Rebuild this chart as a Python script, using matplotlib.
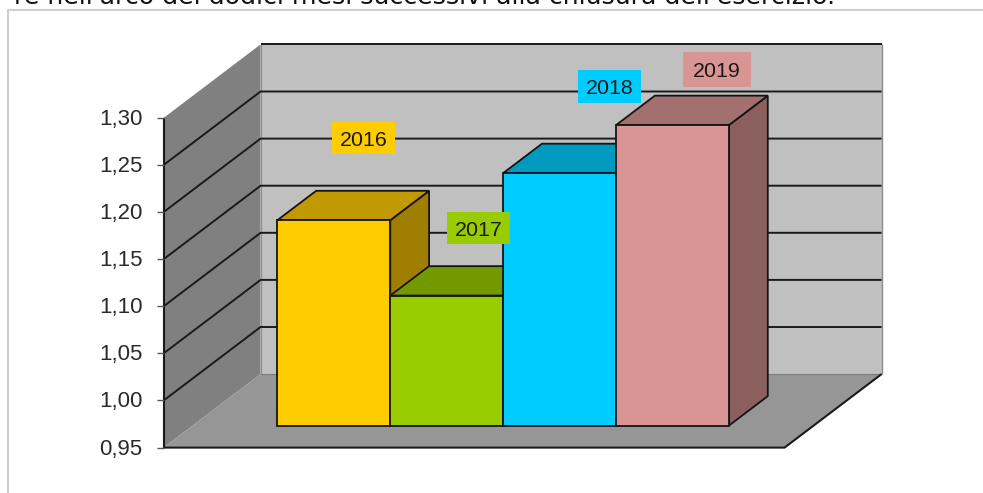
import matplotlib
matplotlib.use("Agg")
import matplotlib.pyplot as plt
from matplotlib.patches import Polygon, Rectangle
from matplotlib.lines import Line2D
from matplotlib.transforms import Affine2D, ScaledTranslation

categories = ["2016", "2017", "2018", "2019"]
values = [1.168, 1.088, 1.218, 1.269]
front_colors = ["#FFCC00", "#99CC00", "#00CCFF", "#D99594"]
top_colors = ["#C09A00", "#739900", "#0099BF", "#A37070"]
side_colors = ["#A07F00", "#607F00", "#007F9F", "#8C5F5F"]
yticks = [0.95, 1.00, 1.05, 1.10, 1.15, 1.20, 1.25, 1.30]
ytick_labels = ["0,95", "1,00", "1,05", "1,10", "1,15", "1,20", "1,25", "1,30"]
title_fragment = "re nell'arco dei dodici mesi successivi alla chiusura dell'esercizio."

W, H = 983, 493
fig = plt.figure(figsize=(W / 100, H / 100), dpi=100, facecolor="white")
ax = fig.add_axes([0, 0, 1, 1])
ax.axis("off")

# axis calibration (pixels)
PX_X0, UNIT_X = 163.6, 112.9
PX_Y0, UNIT_Y = 447.6, 47.1 / 0.05
DEPTH_DX, DEPTH_DY = 97.0, 73.5
XMIN, XMAX = -0.75, 4.75
VMIN, VMAX = 0.95, 1.30

ax.set_xlim(XMIN - PX_X0 / UNIT_X, XMIN + (W - PX_X0) / UNIT_X)
ax.set_ylim(VMIN - (H - PX_Y0) / UNIT_Y, VMIN + PX_Y0 / UNIT_Y)

pix = Affine2D().scale(1, -1).translate(0, H)


def P(x, v, d=0.0):
    return (x + d * DEPTH_DX / UNIT_X, v + d * DEPTH_DY / UNIT_Y)


def poly(points, fc, ec="none", lw=0, z=1):
    ax.add_patch(Polygon(points, closed=True, facecolor=fc, edgecolor=ec,
                         linewidth=lw, joinstyle="miter", zorder=z))


def line(points, color="#1a1a1a", lw=1.4, z=2):
    xs, ys = zip(*points)
    ax.add_line(Line2D(xs, ys, color=color, lw=lw, zorder=z,
                       solid_capstyle="butt", solid_joinstyle="miter"))


# walls and floor
poly([P(XMIN, VMIN, 1), P(XMAX, VMIN, 1), P(XMAX, VMAX, 1), P(XMIN, VMAX, 1)], "#C0C0C0")
poly([P(XMIN, VMIN), P(XMIN, VMIN, 1), P(XMIN, VMAX, 1), P(XMIN, VMAX)], "#808080")
poly([P(XMIN, VMIN), P(XMAX, VMIN), P(XMAX, VMIN, 1), P(XMIN, VMIN, 1)], "#969696")
line([P(XMAX, VMIN, 1), P(XMAX, VMAX, 1)], color="#8c8c8c", lw=1.0)
line([P(XMIN, VMIN, 1), P(XMIN, VMAX, 1)], color="#8c8c8c", lw=0.8)
line([P(XMIN, VMIN, 1), P(XMAX, VMIN, 1)], color="#7a7a7a", lw=0.8)

# gridlines
for t in yticks[1:]:
    if t < VMAX:
        line([P(XMIN, t), P(XMIN, t, 1), P(XMAX, t, 1)])
    else:
        line([P(XMIN, t, 1), P(XMAX, t, 1)])

# axis lines, ticks, tick labels
line([P(XMIN, VMIN), P(XMIN, VMAX)], lw=1.5, z=3)
line([P(XMIN, VMIN), P(XMAX, VMIN), P(XMAX, VMIN, 1)], lw=1.5, z=3)
label_shift = ScaledTranslation(0, 1 / 100, fig.dpi_scale_trans)
for t, lab in zip(yticks, ytick_labels):
    x0, y0 = P(XMIN, t)
    ax.plot([x0 - 7 / UNIT_X, x0], [y0, y0], color="#555555", lw=1.0, zorder=3,
            solid_capstyle="butt")
    ax.text(x0 - 21 / UNIT_X, y0, lab, ha="right", va="center_baseline",
            family="Liberation Sans", fontsize=16, color="#2a2a2a", zorder=3,
            transform=ax.transData + label_shift)

# bars
D0, D1 = 0.3, 0.7
for i, (v, fc, tc, sc) in enumerate(zip(values, front_colors, top_colors, side_colors)):
    e = dict(ec="#141414", lw=1.3, z=4 + i)
    poly([P(i + 1, VMIN, D0), P(i + 1, VMIN, D1), P(i + 1, v, D1), P(i + 1, v, D0)], sc, **e)
    poly([P(i, v, D0), P(i + 1, v, D0), P(i + 1, v, D1), P(i, v, D1)], tc, **e)
    poly([P(i, VMIN, D0), P(i + 1, VMIN, D0), P(i + 1, v, D0), P(i, v, D0)], fc, **e)

# data labels placed above each bar (pixel boxes)
label_centers = [(363.7, 138.0), (478.7, 228.0), (609.7, 86.4), (717.2, 69.2)]
label_w = [63.3, 63.3, 63.3, 67.7]
label_h = [32.6, 32.4, 32.7, 35.0]
for name, (cx, cy), lw_, lh_, col in zip(categories, label_centers, label_w, label_h, front_colors):
    ax.add_patch(Rectangle((cx - lw_ / 2, cy - lh_ / 2), lw_, lh_, transform=pix,
                           facecolor=col, edgecolor="none", zorder=20))
    ax.text(cx, cy, name, transform=pix, ha="center", va="center_baseline",
            family="Liberation Sans", fontsize=15.4, color="#1a1a1a", zorder=21)

# surrounding frame of the page
ax.add_line(Line2D([8, 8, W], [H, 10.3, 10.3], transform=pix, color="#CFCFCF", lw=1.5,
                   zorder=0, solid_joinstyle="round"))
ax.text(835, 4, title_fragment, transform=pix, ha="right", va="baseline",
        family="DejaVu Sans", fontsize=18.2, color="#111111", zorder=0, clip_on=True)

fig.savefig("out.png", dpi=100, facecolor="white")
